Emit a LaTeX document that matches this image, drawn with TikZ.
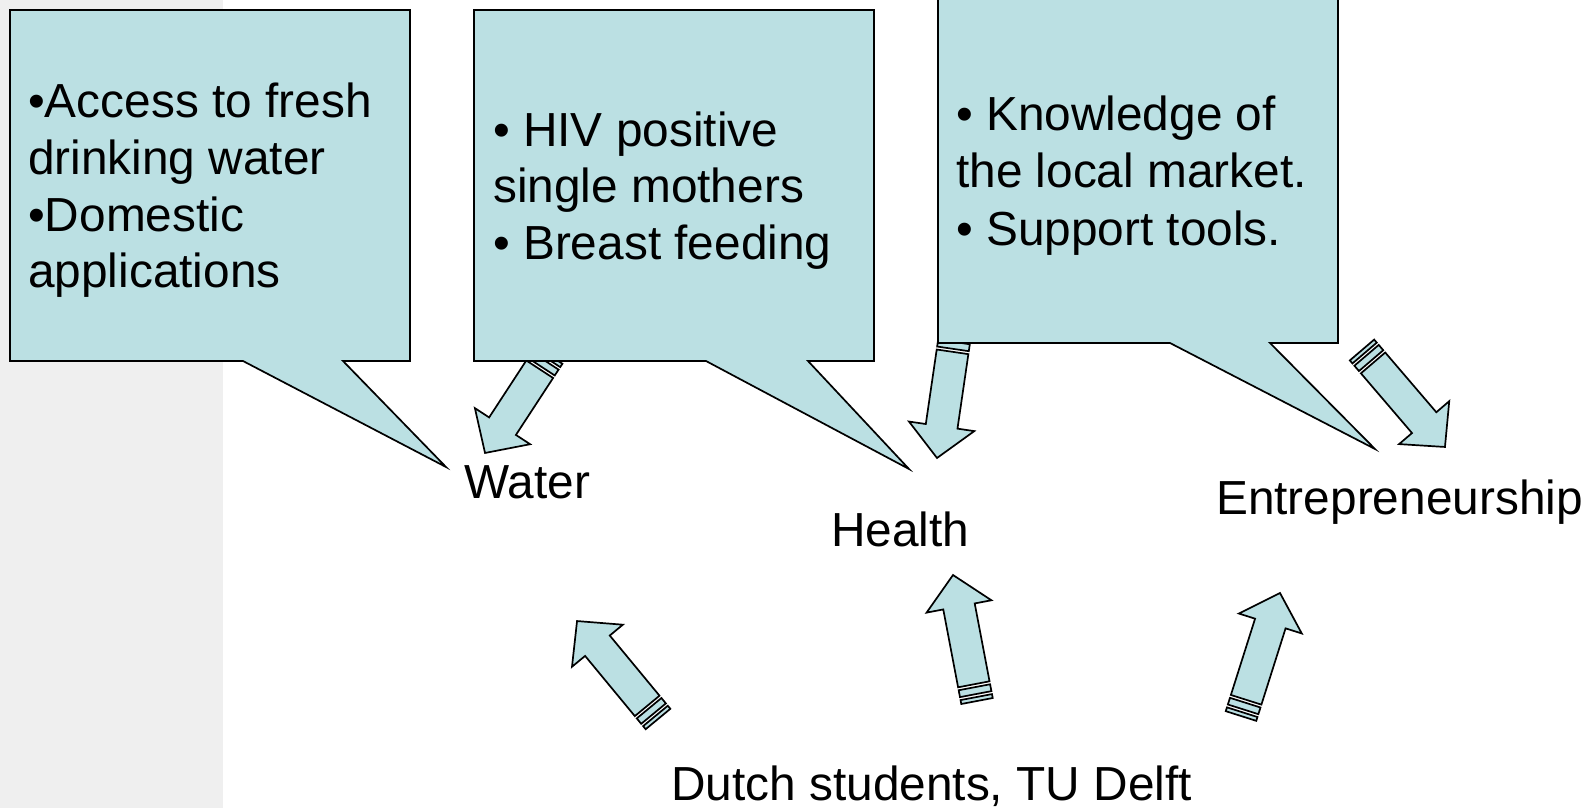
\documentclass[tikz,border=0pt]{standalone}
\usepackage{fontspec}
\setmainfont{Liberation Sans}
\definecolor{boxfill}{HTML}{BBE0E3}
\definecolor{bandgray}{HTML}{EFEFEF}
\newcommand\stripedarrow[2]{%
  \path (#1); \pgfgetlastxy{\saTx}{\saTy}%
  \path (#2); \pgfgetlastxy{\saHx}{\saHy}%
  \pgfmathsetmacro\saAng{atan2((\saHy)-(\saTy),(\saHx)-(\saTx))}%
  \pgfmathsetmacro\saLen{veclen((\saHx)-(\saTx),(\saHy)-(\saTy))}%
  \pgfmathsetmacro\saNeck{\saLen-32}%
  \begin{scope}[shift={(#1)},rotate=\saAng]
    \draw[blockarrow] (0,-16) rectangle (4,16);
    \draw[blockarrow] (7,-16) rectangle (14,16);
    \draw[blockarrow] (17,-16) -- (\saNeck,-16) -- (\saNeck,-33) -- (\saLen,0)
      -- (\saNeck,33) -- (\saNeck,16) -- (17,16) -- cycle;
  \end{scope}}
\begin{document}
\begin{tikzpicture}[x=1pt,y=-1pt,
  callout/.style={fill=boxfill,draw=black,line width=1.7pt,line join=miter},
  blockarrow/.style={fill=boxfill,draw=black,line width=1.7pt,line join=miter},
  lbl/.style={anchor=base west,inner sep=0pt,font=\fontsize{47.8}{56}\selectfont}]
\useasboundingbox (0,0) rectangle (1593,808);
\clip (0,0) rectangle (1593,808);
\fill[bandgray] (0,0) rectangle (223,808);

% arrow end points
\coordinate (tA) at (658,719); \coordinate (hA) at (577,621);
\coordinate (tB) at (977,701); \coordinate (hB) at (953,575);
\coordinate (tC) at (1241,716); \coordinate (hC) at (1280,593);
\coordinate (tD) at (1362,350); \coordinate (hD) at (1445,447);
\coordinate (tE) at (549,355); \coordinate (hE) at (485,453);
\coordinate (tF) at (955,335); \coordinate (hF) at (937,458);

% arrows hidden partly behind the callouts
\stripedarrow{tE}{hE}
\stripedarrow{tF}{hF}

% callouts
\draw[callout] (10,10) -- (410,10) -- (410,361) -- (343,361) -- (446,467)
  -- (243,361) -- (10,361) -- cycle;
\draw[callout] (474,10) -- (874,10) -- (874,361) -- (808,361) -- (909,469)
  -- (706,361) -- (474,361) -- cycle;
\draw[callout] (938,-10) -- (1338,-10) -- (1338,343) -- (1270,343) -- (1375,449)
  -- (1170,343) -- (938,343) -- cycle;

% other arrows
\stripedarrow{tA}{hA}
\stripedarrow{tB}{hB}
\stripedarrow{tC}{hC}
\stripedarrow{tD}{hD}

% callout texts
\node[lbl] (w1) at (28,117) {•Access to fresh};
\node[lbl] (w2) at (28,174) {drinking water};
\node[lbl] (w3) at (28,231) {•Domestic};
\node[lbl] (w4) at (28,287) {applications};
\node[lbl] (h1) at (493,146) {• HIV positive};
\node[lbl] (h2) at (493,202) {single mothers};
\node[lbl] (h3) at (493,259) {• Breast feeding};
\node[lbl] (e1) at (956,130) {• Knowledge of};
\node[lbl] (e2) at (956,187) {the local market.};
\node[lbl] (e3) at (956,245) {• Support tools.};

% labels
\node[lbl] (water) at (464,498) {Water};
\node[lbl] (health) at (831,546) {Health};
\node[lbl] (entre) at (1216,514) {Entrepreneurship};
\node[lbl] (dutch) at (671,800) {Dutch students, TU Delft};
\end{tikzpicture}
\end{document}
